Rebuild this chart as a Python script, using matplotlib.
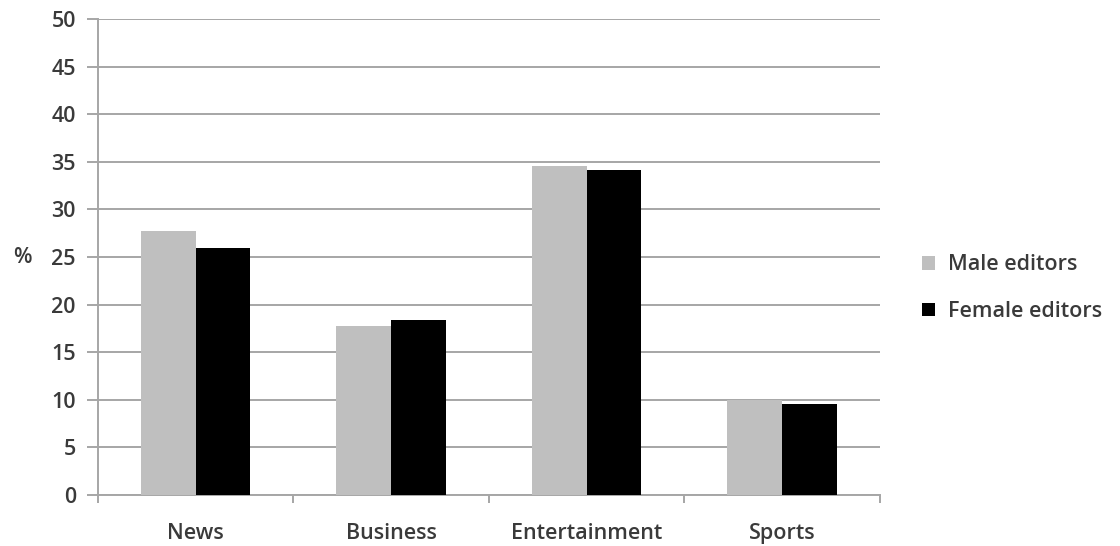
import matplotlib
matplotlib.use("Agg")
import matplotlib.pyplot as plt
import numpy as np
from matplotlib.patches import Patch

categories = ["News", "Business", "Entertainment", "Sports"]
male = [27.7, 17.8, 34.6, 10.0]
female = [25.9, 18.4, 34.1, 9.6]
series_names = ["Male editors", "Female editors"]
yticks = [0, 5, 10, 15, 20, 25, 30, 35, 40, 45, 50]

plt.rcParams['font.family'] = ['Open Sans', 'DejaVu Sans']
FS = 15.5
TXT = "#3a3a3a"

fig = plt.figure(figsize=(11.2, 5.46), dpi=100)
ax = fig.add_axes([0.0875, 0.0934, 0.698, 0.8716])

x = np.arange(len(categories))
w = 0.28
ax.bar(x - w/2, male, width=w, color="#bfbfbf", zorder=3, label=series_names[0])
ax.bar(x + w/2, female, width=w, color="#000000", zorder=3, label=series_names[1])

ax.set_xlim(-0.5, len(categories) - 0.5)
ax.set_ylim(0, 50)
ax.set_yticks(yticks)
ax.set_yticklabels([str(t) for t in yticks], fontsize=FS, color=TXT, fontweight="semibold")
ax.yaxis.grid(True, color="#a6a6a6", linewidth=1.4, zorder=0)
ax.set_axisbelow(True)

ax.set_xticks(np.arange(-0.5, len(categories), 1.0))
ax.set_xticklabels([])
ax.set_xticks(x, minor=True)
ax.set_xticklabels(categories, minor=True, fontsize=FS, color=TXT, fontweight="semibold")
ax.tick_params(axis="x", which="major", direction="out", length=6, color="#a6a6a6", width=1.4)
ax.tick_params(axis="x", which="minor", length=0, pad=20)
ax.tick_params(axis="y", direction="out", length=8, color="#a6a6a6", width=1.4, pad=8)

for s in ["top", "right"]:
    ax.spines[s].set_visible(False)
for s in ["left", "bottom"]:
    ax.spines[s].set_color("#a6a6a6")
    ax.spines[s].set_linewidth(1.4)

ax.set_ylabel("%", rotation=0, fontsize=FS, color=TXT, fontweight="semibold",
              labelpad=21, va="center")

handles = [Patch(facecolor="#bfbfbf", label=series_names[0]),
           Patch(facecolor="#000000", label=series_names[1])]
fig.legend(handles=handles, loc="center left", bbox_to_anchor=(0.806, 0.472),
           frameon=False, prop={"size": FS, "weight": "semibold"},
           handlelength=0.6, handleheight=0.6,
           handletextpad=0.6, labelspacing=1.2, labelcolor=TXT)

fig.savefig("out.png", dpi=100)
